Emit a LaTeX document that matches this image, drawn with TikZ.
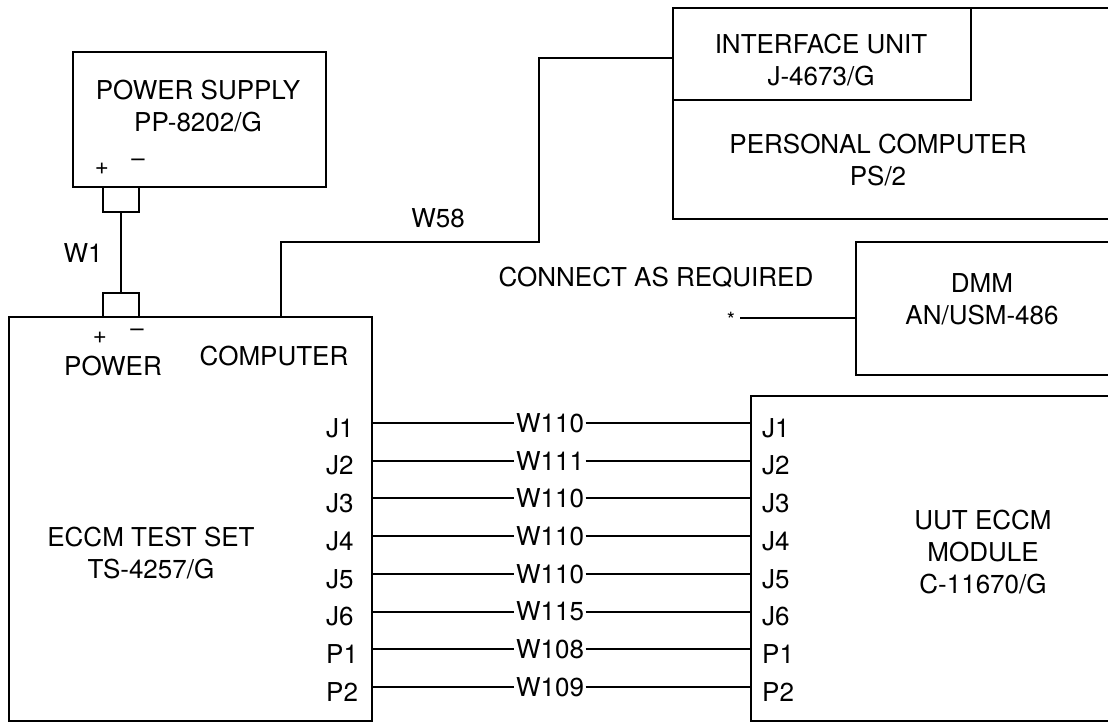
\documentclass[tikz,border=0pt]{standalone}
\usepackage{fontspec}
\setmainfont{TeX Gyre Heros}
\begin{document}
\begin{tikzpicture}[x=1pt,y=-1pt,
  every node/.style={font=\fontsize{26}{32}\selectfont, inner sep=0pt},
  box/.style={draw, line width=2.2pt, inner sep=0pt, anchor=north west},
  wire/.style={line width=2pt},
  lbl/.style={align=center},
  wl/.style={inner sep=1.5pt},
  sgn/.style={font=\fontsize{24}{28}\selectfont}]
\useasboundingbox (0,0) rectangle (1108,727);

% power supply
\node[box, minimum width=253pt, minimum height=135pt] (ps) at (72,51) {};
\node[lbl] (pst) at (198,106) {POWER SUPPLY\\PP-8202/G};
\node[sgn] (psp) at (102,169) {+};
\node[sgn] (psm) at (138,163) {\textendash};
\node[box, minimum width=36pt, minimum height=25pt] (c1) at (102,186) {};
\node[box, minimum width=36pt, minimum height=24pt] (c2) at (102,292) {};
\draw[wire] (c1.south) -- (c2.north);
\node (w1) at (83,253) {W1};

% test set
\node[box, minimum width=363pt, minimum height=404pt] (ts) at (8,316) {};
\node[sgn] (tsp) at (100,338) {+};
\node[sgn] (tsm) at (137,333) {\textendash};
\node (tspow) at (113,366) {POWER};
\node (tscomp) at (274,356) {COMPUTER};
\node[lbl] (tst) at (151,553) {ECCM TEST SET\\TS-4257/G};

% personal computer and interface
\node[box, minimum width=450pt, minimum height=211pt] (pc) at (672,7) {};
\node[box, minimum width=298pt, minimum height=92pt] (iu) at (672,7) {};
\node[lbl] (iut) at (821,60) {INTERFACE UNIT\\J-4673/G};
\node[lbl] (pct) at (878,160) {PERSONAL COMPUTER\\PS/2};

% W58
\draw[wire] (ts.north -| 281,0) |- (539,242) |- (iu.west |- 0,58);
\node (w58) at (438,218) {W58};

% DMM
\node[box, minimum width=265pt, minimum height=133pt] (dmm) at (855,241) {};
\node[lbl] (dmmt) at (982,299) {DMM\\AN/USM-486};
\node (car) at (656,277) {CONNECT AS REQUIRED};
\node[font=\fontsize{21}{24}\selectfont, anchor=north] (ast) at (731,312) {*};
\coordinate (astend) at (740,318);
\draw[wire] (astend) -- (dmm.west |- astend);

% UUT
\node[box, minimum width=365pt, minimum height=325pt] (uut) at (750,395) {};
\node[lbl] (uutt) at (983,552) {UUT ECCM\\MODULE\\C-11670/G};

\foreach \i/\l/\w in {0/J1/W110,1/J2/W111,2/J3/W110,3/J4/W110,4/J5/W110,5/J6/W115,6/P1/W108,7/P2/W109} {
  \pgfmathsetmacro\yy{423+37.7*\i}
  \node[anchor=west] (L\i) at (326,\yy+5) {\l};
  \node[anchor=west] (R\i) at (762,\yy+5) {\l};
  \node[wl] (W\i) at (550,\yy) {\w};
  \draw[wire] (ts.east |- W\i.west) -- (W\i.west);
  \draw[wire] (W\i.east) -- (uut.west |- W\i.east);
}
\end{tikzpicture}
\end{document}
